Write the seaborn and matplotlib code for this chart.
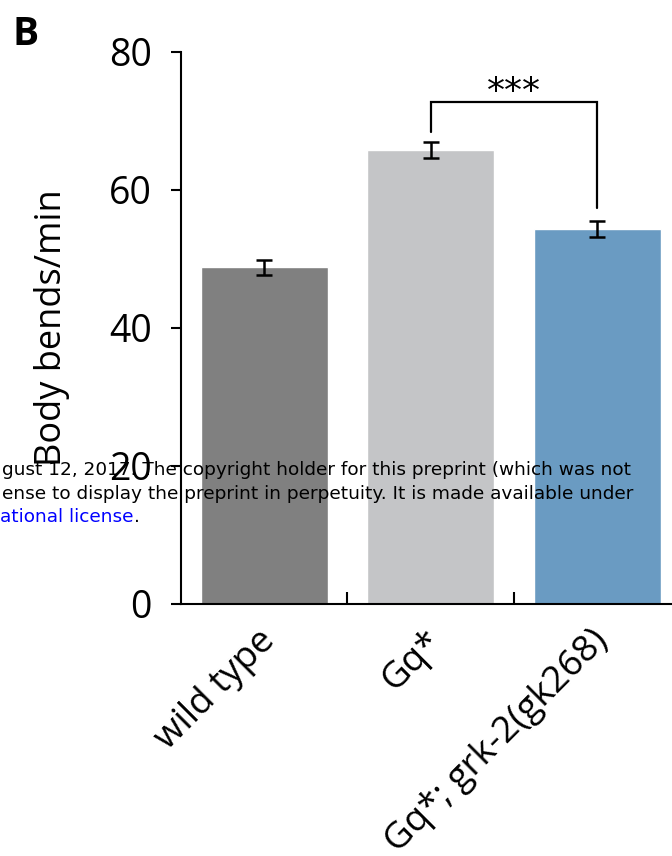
import matplotlib
matplotlib.use("Agg")
import matplotlib.pyplot as plt
import matplotlib.transforms as mtransforms
import seaborn as sns
import pandas as pd

# Locomotion rate per genotype (mean ± SEM)
genotypes = ["wild type", "Gq*", "Gq*; grk-2(gk268)"]
bends_mean = [48.8, 65.8, 54.4]
bends_sem = [1.1, 1.2, 1.15]
bar_colors = ["#808080", "#c4c5c7", "#6a9bc2"]
y_ticks = [0, 20, 40, 60, 80]
significance = "***"
compare_pair = (1, 2)

notice_lines = [
    "gust 12, 2017. The copyright holder for this preprint (which was not",
    "ense to display the preprint in perpetuity. It is made available under",
]
notice_link = "ational license"

sns.set_style("ticks")
plt.rcParams["font.family"] = ["Open Sans", "DejaVu Sans"]

W, H = 672, 856
fig = plt.figure(figsize=(W / 100, H / 100), dpi=100)
ax = fig.add_axes([181 / W, 1 - 604 / H, 1 - 181 / W, (604 - 52) / H])

df = pd.DataFrame({"genotype": genotypes, "bends": bends_mean})
sns.barplot(data=df, x="genotype", y="bends", hue="genotype",
            palette=bar_colors, width=0.763, errorbar=None, legend=False,
            saturation=1, ax=ax)
ax.errorbar(range(len(genotypes)), bends_mean, yerr=bends_sem, fmt="none",
            ecolor="black", elinewidth=1.8, capsize=5.5, capthick=1.8, zorder=3)

ax.set_xlim(-0.5, 2.449)
ax.set_ylim(0, 80)
ax.set_yticks(y_ticks)
for side in ("top", "right"):
    ax.spines[side].set_visible(False)
for side in ("left", "bottom"):
    ax.spines[side].set_linewidth(1.5)
    ax.spines[side].set_color("black")

ax.set_xlabel("")
ax.set_ylabel("Body bends/min", fontsize=26, color="black")
ax.yaxis.set_label_coords((70 - 181) / (W - 181), 0.5)

ax.tick_params(axis="y", length=7, width=1.5, pad=14, labelsize=27,
               colors="black")
ax.tick_params(axis="x", which="major", length=0, pad=23, labelsize=26.5,
               colors="black")
ax.set_xticks([0.5, 1.5], minor=True)
ax.tick_params(axis="x", which="minor", direction="in", length=9, width=1.5,
               color="black")
shift = mtransforms.ScaledTranslation(6 / 100, 0, fig.dpi_scale_trans)
for lab in ax.get_xticklabels():
    lab.set_rotation(45)
    lab.set_ha("right")
    lab.set_va("center")
    lab.set_rotation_mode("anchor")
    lab.set_transform(lab.get_transform() + shift)

# significance bracket between the two Gq* strains
i, j = compare_pair
top = 72.8
left_base = bends_mean[i] + bends_sem[i] + 1.4
right_base = bends_mean[j] + bends_sem[j] + 1.9
ax.plot([i, i, j, j], [left_base, top, top, right_base], color="black",
        lw=1.6, clip_on=False, solid_joinstyle="miter")
ax.text((i + j) / 2, top + 1.4, significance, ha="center", va="center",
        fontsize=26, family="DejaVu Sans", color="black")

# panel letter
fig.text(12 / W, 1 - 45 / H, "B", fontsize=28, fontweight="bold",
         va="baseline", ha="left", color="black")

# preprint notice overlay
notice_font = dict(family="DejaVu Sans", fontsize=13.3)
for k, line in enumerate(notice_lines):
    fig.text(2 / W, 1 - (470 + 24 * k) / H, line, va="center", ha="left",
             color="black", **notice_font)
link = fig.text(0 / W, 1 - 517 / H, notice_link, va="center", ha="left",
                color="#0000ff", **notice_font)
ax.annotate(".", xy=(1, 0), xycoords=link, ha="left", va="bottom",
            color="black", annotation_clip=False, **notice_font)

fig.savefig("out.png", dpi=100)
